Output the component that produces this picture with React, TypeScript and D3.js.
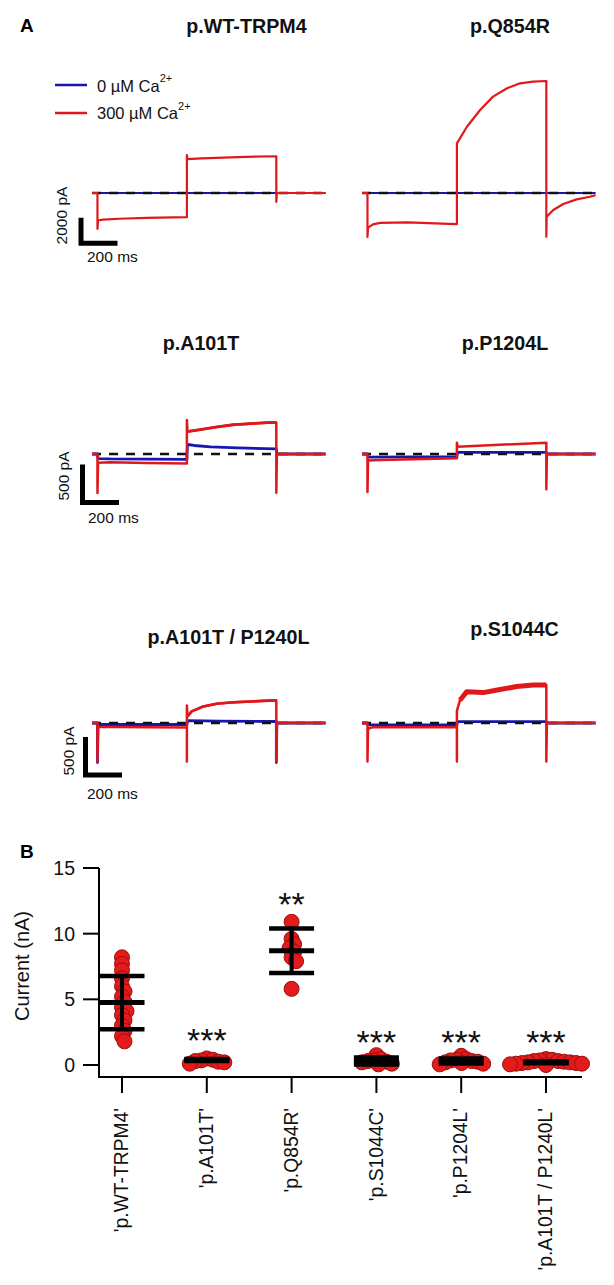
import React from 'react';
import * as d3 from 'd3';

const FONT = "'Liberation Sans', Arial, Helvetica, sans-serif";
const RED = '#e0181c';
const BLUE = '#1717b0';
const DOT_FILL = '#e31b1b';
const DOT_STROKE = '#9a0f0f';

type Pt = [number, number];

// ---------- Panel A: current traces, [time (ms), current (pA)] ----------
const TIME_END = 1280;
const PULSE2: [number, number] = [520, 1010];
const wtRed: Pt[] = [[0,0],[30,0],[30,-2800],[33,-2150],[60,-2080],[150,-2010],[300,-1940],[520,-1890],[520,2970],[523,2650],[600,2700],[800,2810],[1010,2870],[1010,-700],[1013,0],[1280,0]];
const wtBlue: Pt[] = [[0,0],[1280,0]];
const q854rRed: Pt[] = [[0,0],[30,0],[30,-3440],[33,-2700],[60,-2450],[100,-2330],[250,-2300],[400,-2380],[520,-2430],[520,3880],[575,5180],[647,6480],[718,7530],[795,8180],[866,8570],[937,8700],[1010,8750],[1010,-3410],[1012,-1850],[1048,-1330],[1103,-860],[1176,-500],[1249,-290],[1280,-170]];
const q854rBlue: Pt[] = [[0,0],[1280,0]];
const a101tRed: Pt[] = [[0,0],[30,0],[30,-513],[33,-115],[100,-110],[300,-118],[520,-125],[520,447],[523,295],[592,320],[680,355],[774,385],[957,412],[1010,415],[1010,-509],[1013,0],[1280,0]];
const a101tBlue: Pt[] = [[0,0],[30,0],[33,-60],[100,-65],[520,-70],[523,125],[560,112],[650,95],[800,80],[1010,68],[1013,0],[1280,0]];
const p1204lRed: Pt[] = [[0,0],[30,0],[30,-500],[33,-85],[100,-79],[520,-57],[520,149],[523,96],[1010,149],[1010,-465],[1013,0],[1280,0]];
const p1204lBlue: Pt[] = [[0,0],[30,0],[33,-40],[520,-35],[523,22],[1010,22],[1013,0],[1280,0]];
const dblRed: Pt[] = [[0,0],[30,0],[30,-505],[33,-50],[300,-55],[520,-60],[520,-505],[520,230],[523,87],[546,153],[610,218],[683,254],[774,272],[1003,298],[1010,298],[1010,-505],[1013,0],[1280,0]];
const dblBlue: Pt[] = [[0,0],[30,0],[30,-520],[33,-17],[520,-20],[523,30],[700,25],[1010,20],[1010,-520],[1013,0],[1280,0]];
const s1044cRed: Pt[] = [[0,0],[30,0],[30,-505],[33,-75],[60,-55],[520,-55],[520,-505],[520,160],[537,300],[573,410],[665,400],[756,440],[848,480],[939,500],[1010,500],[1010,-505],[1013,0],[1280,0]];
const s1044cBlue: Pt[] = [[0,0],[30,0],[33,-25],[520,-25],[523,18],[1010,18],[1013,0],[1280,0]];

const panelTitles = ['p.WT-TRPM4', 'p.Q854R', 'p.A101T', 'p.P1204L', 'p.A101T / P1240L', 'p.S1044C'];
const redTraces = [wtRed, q854rRed, a101tRed, p1204lRed, dblRed, s1044cRed];
const blueTraces = [wtBlue, q854rBlue, a101tBlue, p1204lBlue, dblBlue, s1044cBlue];
const rowScaleCurrents = [2000, 500, 500]; // pA of the scale bar in each row
const scaleBarTime = 200; // ms
const legendLabels = ['0 µM Ca', '300 µM Ca'];
const legendSup = '2+';

// ---------- Panel B: peak current (nA) ----------
const groups = ["'p.WT-TRPM4'", "'p.A101T'", "'p.Q854R'", "'p.S1044C'", "'p.P1204L'", "'p.A101T / P1240L'"];
const wtVals = [8.2, 7.7, 7.2, 6.6, 6.0, 5.6, 5.2, 4.8, 4.4, 4.1, 3.8, 3.4, 3.0, 2.6, 2.2, 1.8];
const a101tVals = [0.5, 0.4, 0.35, 0.3, 0.25, 0.2, 0.1];
const q854rVals = [10.9, 9.6, 9.2, 8.9, 8.6, 8.2, 7.9, 5.8];
const s1044cVals = [0.75, 0.45, 0.35, 0.3, 0.25, 0.2, 0.1, 0.05];
const p1204lVals = [0.7, 0.45, 0.4, 0.35, 0.3, 0.25, 0.2, 0.15, 0.1, 0.05];
const dblVals = [0.45, 0.4, 0.35, 0.3, 0.3, 0.25, 0.2, 0.2, 0.15, 0.15, 0.1, 0.1, 0.05, 0.0];
const groupValues = [wtVals, a101tVals, q854rVals, s1044cVals, p1204lVals, dblVals];
const means = [4.75, 0.38, 8.7, 0.3, 0.3, 0.2];
const sds = [2.03, 0.07, 1.7, 0.27, 0.19, 0.06];
const sigLabels = ['', '***', '**', '***', '***', '***'];
const sigY = [0, 1.0, 11.35, 0.85, 0.85, 0.85];
const yTicks = [0, 5, 10, 15];

// ---------- layout ----------
const PX_PER_MS = 0.1825;
const panelLayout = [
  { x0: 92, base: 193, row: 0, tx: 246.5, ty: 32.5, rw: 2.2, nw: 2.2, bar: { x: 81, y: 243.3, px: 67, py: 215.5, tx: 87, ty: 261.5 } },
  { x0: 362, base: 193, row: 0, tx: 510, ty: 33, rw: 2.2, nw: 2.2 },
  { x0: 92, base: 454, row: 1, tx: 201, ty: 350, rw: 2.5, nw: 2.8, bar: { x: 82.5, y: 502.5, px: 68.5, py: 476, tx: 88, ty: 523 } },
  { x0: 362, base: 454, row: 1, tx: 505, ty: 350, rw: 2.5, nw: 2.5 },
  { x0: 92, base: 723, row: 2, tx: 228.5, ty: 644, rw: 2.5, nw: 2.6 },
  { x0: 362, base: 723, row: 2, tx: 514.5, ty: 636, rw: 2.5, nw: 5 },
];
const barLayout = [
  { x: 81, y: 243.3, px: 67, py: 215.5, tx: 87, ty: 261.5 },
  { x: 82.5, y: 502.5, px: 68.5, py: 476, tx: 88, ty: 523 },
  { x: 85.5, y: 775, px: 74, py: 751, tx: 87, ty: 799 },
];
const rowUnitPx = [25.6, 38, 38];

function beeswarm(vals: number[], y: (v: number) => number, cx: number, minDist: number) {
  const placed: { x: number; y: number }[] = [];
  return vals.map((v) => {
    const yy = y(v);
    let off = 0;
    for (let k = 0; k < 400; k++) {
      const o = k === 0 ? 0 : (k % 2 ? 1 : -1) * Math.ceil(k / 2) * 0.5;
      if (placed.every((p) => Math.hypot(p.x - (cx + o), p.y - yy) >= minDist)) { off = o; break; }
    }
    const pt = { x: cx + off, y: yy };
    placed.push(pt);
    return pt;
  });
}

function PanelA() {
  return (
    <g fontFamily={FONT}>
      <text x={20} y={32} fontSize={19} fontWeight="bold">A</text>
      {/* legend */}
      {[BLUE, RED].map((c, i) => (
        <g key={i}>
          <line x1={55} x2={87} y1={85 + i * 28} y2={85 + i * 28} stroke={c} strokeWidth={2.5} />
          <text x={97} y={91.5 + i * 27.5} fontSize={16.5} fill="#111">
            {legendLabels[i]}
            <tspan fontSize={11} dy={-9.5}>{legendSup}</tspan>
          </text>
        </g>
      ))}
      {panelLayout.map((p, i) => {
        const t = d3.scaleLinear().domain([0, TIME_END]).range([p.x0, p.x0 + TIME_END * PX_PER_MS]);
        const y = d3.scaleLinear().domain([0, rowScaleCurrents[p.row]]).range([p.base, p.base - rowUnitPx[p.row]]);
        const line = d3.line<Pt>().x((d) => t(d[0])).y((d) => y(d[1]));
        const red = redTraces[i];
        const pulse2 = red.filter((d, k) => d[0] >= PULSE2[0] && d[0] <= PULSE2[1] && d[1] > 0 && k > 0);
        return (
          <g key={i}>
            <text x={p.tx} y={p.ty} textAnchor="middle" fontSize={19.7} fontWeight="bold" fill="#111">{panelTitles[i]}</text>
            <path d={line(blueTraces[i]) || ''} fill="none" stroke={BLUE} strokeWidth={p.row === 0 ? 2.2 : 2.8} strokeLinejoin="round" />
            <line x1={t(0)} x2={t(TIME_END)} y1={y(0)} y2={y(0)} stroke="#111" strokeWidth={2.3} strokeDasharray="9,8" />
            <path d={line(red) || ''} fill="none" stroke={RED} strokeWidth={p.rw} strokeLinejoin="round" />
            {p.nw > p.rw && (
              <path d={line(pulse2.slice(1)) || ''} fill="none" stroke={RED} strokeWidth={p.nw} strokeLinejoin="round" />
            )}
          </g>
        );
      })}
      {barLayout.map((b, r) => {
        const x0 = panelLayout[r * 2].x0;
        const t = d3.scaleLinear().domain([0, TIME_END]).range([x0, x0 + TIME_END * PX_PER_MS]);
        const y = d3.scaleLinear().domain([0, rowScaleCurrents[r]]).range([0, rowUnitPx[r]]);
        const vLen = y(rowScaleCurrents[r]);
        const hLen = t(scaleBarTime) - t(0);
        return (
          <g key={r}>
            <path d={`M${b.x},${b.y - vLen}V${b.y}H${b.x + hLen}`} fill="none" stroke="#000" strokeWidth={5} strokeLinejoin="miter" />
            <text transform={`translate(${b.px},${b.py}) rotate(-90)`} textAnchor="middle" fontSize={15.5} fill="#111">{`${rowScaleCurrents[r]} pA`}</text>
            <text x={b.tx} y={b.ty} fontSize={15.5} fill="#111">{`${scaleBarTime} ms`}</text>
          </g>
        );
      })}
    </g>
  );
}

function PanelB() {
  const y = d3.scaleLinear().domain([0, 15]).range([1065, 868]);
  const x = d3.scalePoint<string>().domain(groups).range([122, 546]);
  const axisX0 = 99, axisY0 = 1077, axisX1 = 582;
  const halfW = 22.5;
  return (
    <g fontFamily={FONT}>
      <text x={20} y={858} fontSize={19} fontWeight="bold">B</text>
      {groups.map((g, gi) => {
        const pts = beeswarm(groupValues[gi], y, x(g)!, 5.8);
        return (
          <g key={g}>
            {pts.map((p, k) => (
              <circle key={k} cx={p.x} cy={p.y} r={7.5} fill={DOT_FILL} stroke={DOT_STROKE} strokeWidth={1} />
            ))}
          </g>
        );
      })}
      {groups.map((g, gi) => {
        const cx = x(g)!;
        const m = means[gi], s = sds[gi];
        return (
          <g key={g} stroke="#000">
            <line x1={cx} x2={cx} y1={y(m + s)} y2={y(m - s)} strokeWidth={4} />
            <line x1={cx - halfW} x2={cx + halfW} y1={y(m + s)} y2={y(m + s)} strokeWidth={4.5} />
            <line x1={cx - halfW} x2={cx + halfW} y1={y(m - s)} y2={y(m - s)} strokeWidth={4.5} />
            <line x1={cx - halfW} x2={cx + halfW} y1={y(m)} y2={y(m)} strokeWidth={5} />
          </g>
        );
      })}
      {groups.map((g, gi) => sigLabels[gi] ? (
        <text key={g} x={x(g)!} y={y(sigY[gi])} textAnchor="middle" fontSize={34} fill="#111">{sigLabels[gi]}</text>
      ) : null)}
      <line x1={axisX0} x2={axisX0} y1={y(15)} y2={axisY0} stroke="#000" strokeWidth={2} />
      <line x1={axisX0 - 1} x2={axisX1} y1={axisY0} y2={axisY0} stroke="#000" strokeWidth={2} />
      {yTicks.map((v) => (
        <g key={v}>
          <line x1={axisX0 - 16} x2={axisX0} y1={y(v)} y2={y(v)} stroke="#000" strokeWidth={2} />
          <text x={75} y={y(v)} dy="0.36em" textAnchor="end" fontSize={19.5} fill="#111">{v}</text>
        </g>
      ))}
      {groups.map((g) => (
        <g key={g}>
          <line x1={x(g)!} x2={x(g)!} y1={axisY0} y2={axisY0 + 16} stroke="#000" strokeWidth={2} />
          <text transform={`translate(${x(g)!},${axisY0 + 31}) rotate(-90)`} dy="0.32em" textAnchor="end" fontSize={19.3} fill="#111">{g}</text>
        </g>
      ))}
      <text transform="translate(29,966) rotate(-90)" textAnchor="middle" fontSize={20} fill="#111">Current (nA)</text>
    </g>
  );
}

export default function App() {
  return (
    <div style={{ position: 'absolute', left: 0, top: 0, width: 614, height: 1285, background: '#fff' }}>
      <svg width={614} height={1285} viewBox="0 0 614 1285" style={{ display: 'block' }}>
        <rect width={614} height={1285} fill="#fff" />
        <PanelA />
        <PanelB />
      </svg>
    </div>
  );
}
